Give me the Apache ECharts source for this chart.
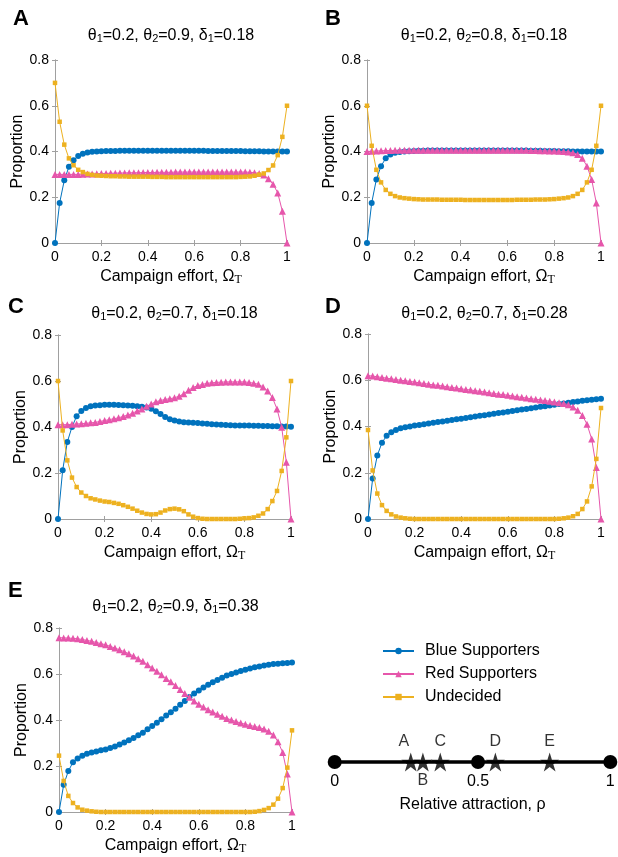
<!DOCTYPE html>
<html>
<head>
<meta charset="utf-8">
<script src="https://cdn.jsdelivr.net/npm/echarts@6.0.0/dist/echarts.min.js"></script>
<style>
  html, body { margin: 0; padding: 0; background: #fff; }
  #main { width: 618px; height: 857px; }
</style>
</head>
<body>
<div id="main"></div>
<script>
// x values: campaign effort
var effort = [
  0, 0.02, 0.04, 0.06, 0.08, 0.1, 0.12, 0.14, 0.16, 0.18,
  0.2, 0.22, 0.24, 0.26, 0.28, 0.3, 0.32, 0.34, 0.36, 0.38,
  0.4, 0.42, 0.44, 0.46, 0.48, 0.5, 0.52, 0.54, 0.56, 0.58,
  0.6, 0.62, 0.64, 0.66, 0.68, 0.7, 0.72, 0.74, 0.76, 0.78,
  0.8, 0.82, 0.84, 0.86, 0.88, 0.9, 0.92, 0.94, 0.96, 0.98,
  1
];

// panel A
var blueA = [
  0, 0.175, 0.274, 0.333, 0.362, 0.38, 0.39, 0.396, 0.399, 0.4,
  0.401, 0.402, 0.402, 0.402, 0.403, 0.403, 0.403, 0.403, 0.403, 0.403,
  0.403, 0.403, 0.403, 0.403, 0.403, 0.403, 0.403, 0.403, 0.403, 0.403,
  0.403, 0.403, 0.403, 0.402, 0.402, 0.402, 0.402, 0.402, 0.402, 0.402,
  0.402, 0.401, 0.401, 0.401, 0.401, 0.4, 0.4, 0.4, 0.4, 0.4,
  0.4
];
var redA = [
  0.3, 0.3, 0.3, 0.3, 0.3, 0.3, 0.301, 0.302, 0.302, 0.303,
  0.304, 0.304, 0.305, 0.305, 0.306, 0.306, 0.307, 0.307, 0.307, 0.308,
  0.308, 0.308, 0.309, 0.309, 0.309, 0.309, 0.31, 0.31, 0.31, 0.31,
  0.31, 0.31, 0.31, 0.31, 0.31, 0.31, 0.31, 0.31, 0.31, 0.31,
  0.31, 0.31, 0.309, 0.307, 0.304, 0.297, 0.281, 0.257, 0.219, 0.139,
  0
];
var undecidedA = [
  0.7, 0.53, 0.43, 0.37, 0.34, 0.32, 0.31, 0.302, 0.298, 0.295,
  0.294, 0.293, 0.292, 0.292, 0.291, 0.291, 0.29, 0.29, 0.29, 0.29,
  0.29, 0.289, 0.289, 0.289, 0.288, 0.288, 0.288, 0.288, 0.288, 0.288,
  0.288, 0.288, 0.288, 0.288, 0.288, 0.288, 0.288, 0.288, 0.288, 0.288,
  0.289, 0.29, 0.291, 0.294, 0.299, 0.304, 0.319, 0.339, 0.384, 0.464,
  0.6
];

// panel B
var blueB = [
  0, 0.175, 0.278, 0.336, 0.37, 0.387, 0.395, 0.398, 0.4, 0.401,
  0.402, 0.403, 0.403, 0.404, 0.404, 0.404, 0.404, 0.404, 0.404, 0.404,
  0.404, 0.404, 0.404, 0.404, 0.404, 0.404, 0.404, 0.404, 0.404, 0.404,
  0.404, 0.404, 0.404, 0.404, 0.404, 0.403, 0.403, 0.403, 0.402, 0.402,
  0.402, 0.401, 0.401, 0.401, 0.4, 0.4, 0.4, 0.4, 0.4, 0.4,
  0.4
];
var redB = [
  0.4, 0.401, 0.402, 0.403, 0.404, 0.404, 0.405, 0.405, 0.405, 0.406,
  0.406, 0.406, 0.406, 0.406, 0.406, 0.406, 0.406, 0.406, 0.406, 0.406,
  0.406, 0.406, 0.406, 0.406, 0.406, 0.406, 0.406, 0.406, 0.406, 0.406,
  0.406, 0.406, 0.405, 0.405, 0.405, 0.404, 0.404, 0.403, 0.403, 0.402,
  0.402, 0.401, 0.4, 0.398, 0.395, 0.387, 0.37, 0.336, 0.278, 0.175,
  0
];
var undecidedB = [
  0.6, 0.425, 0.32, 0.265, 0.232, 0.215, 0.205, 0.199, 0.196, 0.194,
  0.192, 0.191, 0.19, 0.19, 0.19, 0.19, 0.189, 0.189, 0.189, 0.189,
  0.189, 0.188, 0.188, 0.188, 0.188, 0.188, 0.188, 0.188, 0.188, 0.188,
  0.188, 0.188, 0.189, 0.189, 0.189, 0.189, 0.19, 0.19, 0.19, 0.191,
  0.192, 0.194, 0.196, 0.199, 0.205, 0.215, 0.232, 0.265, 0.32, 0.425,
  0.6
];

// panel C
var blueC = [
  0, 0.212, 0.335, 0.4, 0.447, 0.47, 0.483, 0.49, 0.494, 0.495,
  0.497, 0.497, 0.497, 0.496, 0.495, 0.494, 0.492, 0.49, 0.488, 0.485,
  0.479, 0.469, 0.456, 0.443, 0.434, 0.428, 0.424, 0.421, 0.42, 0.418,
  0.417, 0.415, 0.414, 0.412, 0.411, 0.41, 0.409, 0.408, 0.407, 0.407,
  0.406, 0.406, 0.405, 0.405, 0.404, 0.404, 0.403, 0.403, 0.402, 0.402,
  0.401
];
var redC = [
  0.41, 0.41, 0.41, 0.412, 0.413, 0.414, 0.416, 0.418, 0.42, 0.424,
  0.428, 0.432, 0.436, 0.44, 0.446, 0.452, 0.46, 0.47, 0.478, 0.49,
  0.5, 0.51, 0.515, 0.52, 0.523, 0.527, 0.534, 0.545, 0.56, 0.572,
  0.58, 0.585, 0.59, 0.592, 0.594, 0.595, 0.596, 0.596, 0.596, 0.596,
  0.596, 0.594, 0.59, 0.586, 0.574, 0.557, 0.528, 0.478, 0.399, 0.247,
  0
];
var undecidedC = [
  0.6, 0.385, 0.255, 0.18, 0.139, 0.115, 0.1, 0.09, 0.085, 0.08,
  0.076, 0.074, 0.07, 0.066, 0.06, 0.053, 0.045, 0.036, 0.028, 0.022,
  0.02, 0.021, 0.028, 0.037, 0.043, 0.045, 0.042, 0.034, 0.02, 0.01,
  0.004, 0.001, 0, 0, 0, 0, 0, 0, 0, 0.001,
  0.003, 0.004, 0.007, 0.014, 0.024, 0.043, 0.078, 0.122, 0.209, 0.355,
  0.6
];

// panel D
var blueD = [
  0, 0.175, 0.275, 0.33, 0.36, 0.375, 0.385, 0.392, 0.397, 0.4,
  0.404, 0.407, 0.41, 0.413, 0.416, 0.419, 0.422, 0.425, 0.428, 0.431,
  0.434, 0.437, 0.44, 0.443, 0.446, 0.449, 0.452, 0.455, 0.458, 0.461,
  0.464, 0.467, 0.47, 0.473, 0.476, 0.479, 0.482, 0.485, 0.488, 0.491,
  0.494, 0.497, 0.5, 0.503, 0.506, 0.508, 0.511, 0.514, 0.516, 0.518,
  0.52
];
var redD = [
  0.62, 0.618, 0.615, 0.612, 0.609, 0.606, 0.603, 0.6, 0.598, 0.595,
  0.592, 0.589, 0.586, 0.583, 0.58, 0.578, 0.575, 0.572, 0.569, 0.566,
  0.563, 0.56, 0.558, 0.555, 0.552, 0.549, 0.546, 0.543, 0.54, 0.538,
  0.535, 0.532, 0.529, 0.526, 0.523, 0.52, 0.518, 0.515, 0.512, 0.509,
  0.506, 0.503, 0.5, 0.494, 0.484, 0.47, 0.448, 0.41, 0.346, 0.223,
  0
];
var undecidedD = [
  0.385, 0.21, 0.11, 0.06, 0.035, 0.02, 0.011, 0.006, 0.003, 0.001,
  0, 0, 0, 0, 0, 0, 0, 0, 0, 0,
  0, 0, 0, 0, 0, 0, 0, 0, 0, 0,
  0, 0, 0, 0, 0, 0, 0, 0, 0, 0,
  0, 0.001, 0.003, 0.006, 0.012, 0.022, 0.043, 0.076, 0.141, 0.26,
  0.48
];

// panel E
var blueE = [
  0, 0.118, 0.178, 0.216, 0.233, 0.245, 0.253, 0.259, 0.263, 0.268,
  0.272, 0.278, 0.285, 0.294, 0.302, 0.312, 0.322, 0.334, 0.345, 0.36,
  0.374, 0.388, 0.403, 0.42, 0.434, 0.449, 0.466, 0.483, 0.5, 0.515,
  0.528, 0.541, 0.553, 0.564, 0.574, 0.584, 0.593, 0.6, 0.607, 0.613,
  0.619, 0.624, 0.629, 0.633, 0.637, 0.64, 0.643, 0.645, 0.647, 0.648,
  0.65
];
var redE = [
  0.758, 0.757, 0.756, 0.755, 0.753, 0.75, 0.746, 0.742, 0.737, 0.732,
  0.727, 0.72, 0.713, 0.705, 0.697, 0.688, 0.678, 0.666, 0.655, 0.64,
  0.626, 0.612, 0.597, 0.58, 0.566, 0.55, 0.533, 0.515, 0.499, 0.483,
  0.468, 0.456, 0.445, 0.435, 0.425, 0.416, 0.407, 0.4, 0.393, 0.387,
  0.381, 0.376, 0.372, 0.367, 0.361, 0.351, 0.335, 0.305, 0.259, 0.165,
  0
];
var undecidedE = [
  0.245, 0.135, 0.07, 0.039, 0.02, 0.01, 0.006, 0.003, 0.001, 0,
  0, 0, 0, 0, 0, 0, 0, 0, 0, 0,
  0, 0, 0, 0, 0, 0, 0, 0, 0, 0,
  0, 0, 0, 0, 0, 0, 0, 0, 0, 0,
  0, 0, 0.001, 0.004, 0.009, 0.017, 0.032, 0.058, 0.104, 0.193,
  0.355
];

// panel parameters
var panelLetters = ["A", "B", "C", "D", "E"];
var theta1 = ["0.2", "0.2", "0.2", "0.2", "0.2"];
var theta2 = ["0.9", "0.8", "0.7", "0.7", "0.9"];
var delta1 = ["0.18", "0.18", "0.18", "0.28", "0.38"];
var xTicks = ["0", "0.2", "0.4", "0.6", "0.8", "1"];

// relative attraction line
var rhoDots = [0, 0.52, 1];
var rhoDotLabels = ["0", "0.5", "1"];
var rhoStars = [0.276, 0.32, 0.383, 0.583, 0.78];
var starLabels = ["A", "B", "C", "D", "E"];

var seriesNames = ["Blue Supporters", "Red Supporters", "Undecided"];
var panelData = [
  [blueA, redA, undecidedA],
  [blueB, redB, undecidedB],
  [blueC, redC, undecidedC],
  [blueD, redD, undecidedD],
  [blueE, redE, undecidedE]
];

// layout: [left, top, width, height]
var gridBoxes = [
  [55, 60, 232, 183],
  [367, 60, 234, 183],
  [58, 335, 233, 184],
  [368, 334, 233, 185],
  [59, 628, 233, 184]
];
var letterPos = [[13, 8], [325, 8], [8, 296], [325, 296], [8, 580]];
var titleTop = [27, 27, 305, 305, 598];

var FONT = "Liberation Sans, Arial, Helvetica, sans-serif";
var GRAY = "#a0a0a0";
var COLORS = ["#0072bd", "#e656ab", "#edb120"];
var SYMBOLS = ["circle", "triangle", "rect"];
var SIZES = [6, 7, 4.5];
var STAR = "path://M50,0 L61.2,34.5 L97.6,34.5 L68.2,55.9 L79.4,90.5 L50,69.1 L20.6,90.5 L31.8,55.9 L2.4,34.5 L38.8,34.5 Z";

function pairs(xs, ys) {
  var out = [];
  for (let i = 0; i < xs.length; i++) {
    out.push([xs[i], ys[i]]);
  }
  return out;
}

function build_option() {
  var option = {
    animation: false,
    backgroundColor: "#fff",
    textStyle: { fontFamily: FONT, color: "#000" },
    title: [],
    grid: [],
    xAxis: [],
    yAxis: [],
    series: [],
    legend: {
      data: seriesNames,
      orient: "vertical",
      left: 382,
      top: 643,
      padding: 0,
      itemWidth: 31,
      itemHeight: 8,
      itemGap: 7,
      textStyle: { fontFamily: FONT, fontSize: 16, color: "#000", padding: [0, 0, 0, 6] }
    }
  };
  var subStyle = { fontSize: 11, lineHeight: 8, verticalAlign: "bottom", fontFamily: FONT, color: "#000" };

  for (let i = 0; i < 5; i++) {
    var box = gridBoxes[i];
    option.grid.push({ left: box[0], top: box[1], width: box[2], height: box[3] });

    // panel letter
    option.title.push({
      text: panelLetters[i],
      left: letterPos[i][0],
      top: letterPos[i][1],
      padding: 0,
      textStyle: { fontFamily: FONT, fontSize: 22, fontWeight: "bold", color: "#000" }
    });
    // parameter title
    option.title.push({
      text: "\u03b8{s|1}=" + theta1[i] + ", \u03b8{s|2}=" + theta2[i] + ", \u03b4{s|1}=" + delta1[i],
      left: box[0] + box[2] / 2,
      top: titleTop[i],
      textAlign: "center",
      padding: 0,
      textStyle: {
        fontFamily: FONT, fontSize: 16, fontWeight: "normal", color: "#000", lineHeight: 17,
        rich: { s: subStyle }
      }
    });

    var tickStyle = { inside: true, length: 3, lineStyle: { color: GRAY, width: 1 } };
    var lineStyle = { show: true, lineStyle: { color: GRAY, width: 1 } };
    // bottom / left axes with labels
    option.xAxis.push({
      gridIndex: i, type: "value", min: 0, max: 1, interval: 0.2, position: "bottom",
      axisLine: lineStyle, axisTick: tickStyle, splitLine: { show: false },
      axisLabel: {
        fontSize: 14, color: "#000", margin: 7,
        formatter: function (v) { return xTicks[Math.round(v * 5)]; }
      },
      name: "Campaign effort, \u03a9{t|T}",
      nameLocation: "middle",
      nameGap: 25,
      nameTextStyle: {
        fontFamily: FONT, fontSize: 16, color: "#000", lineHeight: 18,
        rich: { t: { fontSize: 12, lineHeight: 8, verticalAlign: "bottom", fontFamily: "Liberation Serif, serif", color: "#000" } }
      }
    });
    option.yAxis.push({
      gridIndex: i, type: "value", min: 0, max: 0.8, interval: 0.2, position: "left",
      axisLine: lineStyle, axisTick: tickStyle, splitLine: { show: false },
      axisLabel: { fontSize: 14, color: "#000", margin: 6 },
      name: "Proportion",
      nameLocation: "middle",
      nameGap: 27,
      nameTextStyle: { fontFamily: FONT, fontSize: 16, color: "#000" }
    });
    // top / right axes, box outline with inner ticks
    option.xAxis.push({
      gridIndex: i, type: "value", min: 0, max: 1, interval: 0.2, position: "top",
      axisLine: lineStyle, axisTick: tickStyle, axisLabel: { show: false }, splitLine: { show: false }
    });
    option.yAxis.push({
      gridIndex: i, type: "value", min: 0, max: 0.8, interval: 0.2, position: "right",
      axisLine: lineStyle, axisTick: tickStyle, axisLabel: { show: false }, splitLine: { show: false }
    });

    for (let k = 0; k < 3; k++) {
      option.series.push({
        name: seriesNames[k],
        type: "line",
        xAxisIndex: 2 * i,
        yAxisIndex: 2 * i,
        data: pairs(effort, panelData[i][k]),
        symbol: SYMBOLS[k],
        symbolSize: SIZES[k],
        showAllSymbol: true,
        lineStyle: { color: COLORS[k], width: 1 },
        itemStyle: { color: COLORS[k] },
        z: 2 + k
      });
    }
  }

  // relative attraction number line
  option.grid.push({ left: 334.7, top: 757, width: 275.6, height: 10 });
  option.xAxis.push({
    gridIndex: 5, type: "value", min: 0, max: 1,
    axisLine: { show: false }, axisTick: { show: false }, axisLabel: { show: false }, splitLine: { show: false },
    name: "Relative attraction, \u03c1",
    nameLocation: "middle",
    nameGap: 30,
    nameTextStyle: { fontFamily: FONT, fontSize: 16, color: "#000" }
  });
  option.yAxis.push({ gridIndex: 5, type: "value", min: -1, max: 1, show: false });

  option.series.push({
    name: "rho",
    type: "line",
    xAxisIndex: 10,
    yAxisIndex: 10,
    data: rhoDots.map(function (v) { return [v, 0]; }),
    symbol: "circle",
    symbolSize: 14,
    showAllSymbol: true,
    lineStyle: { color: "#000", width: 3.5 },
    itemStyle: { color: "#000" },
    label: {
      show: true, position: "bottom", distance: 5, fontSize: 16, color: "#000", fontFamily: FONT,
      formatter: function (p) { return rhoDotLabels[p.dataIndex]; }
    },
    z: 3
  });
  option.series.push({
    name: "cases",
    type: "scatter",
    xAxisIndex: 10,
    yAxisIndex: 10,
    symbol: STAR,
    symbolSize: 19,
    itemStyle: { color: "#000" },
    data: rhoStars.map(function (v, idx) {
      var below = starLabels[idx] === "B";
      return {
        value: [v, 0],
        label: {
          position: below ? "bottom" : "top",
          distance: below ? 1 : 3,
          offset: starLabels[idx] === "A" ? [-7, 0] : [0, 0]
        }
      };
    }),
    label: {
      show: true, fontSize: 16, color: "#000", fontFamily: FONT,
      formatter: function (p) { return starLabels[p.dataIndex]; }
    },
    z: 4
  });
  return option;
}

var chart = echarts.init(document.getElementById("main"));
chart.setOption(build_option());
</script>
</body>
</html>
